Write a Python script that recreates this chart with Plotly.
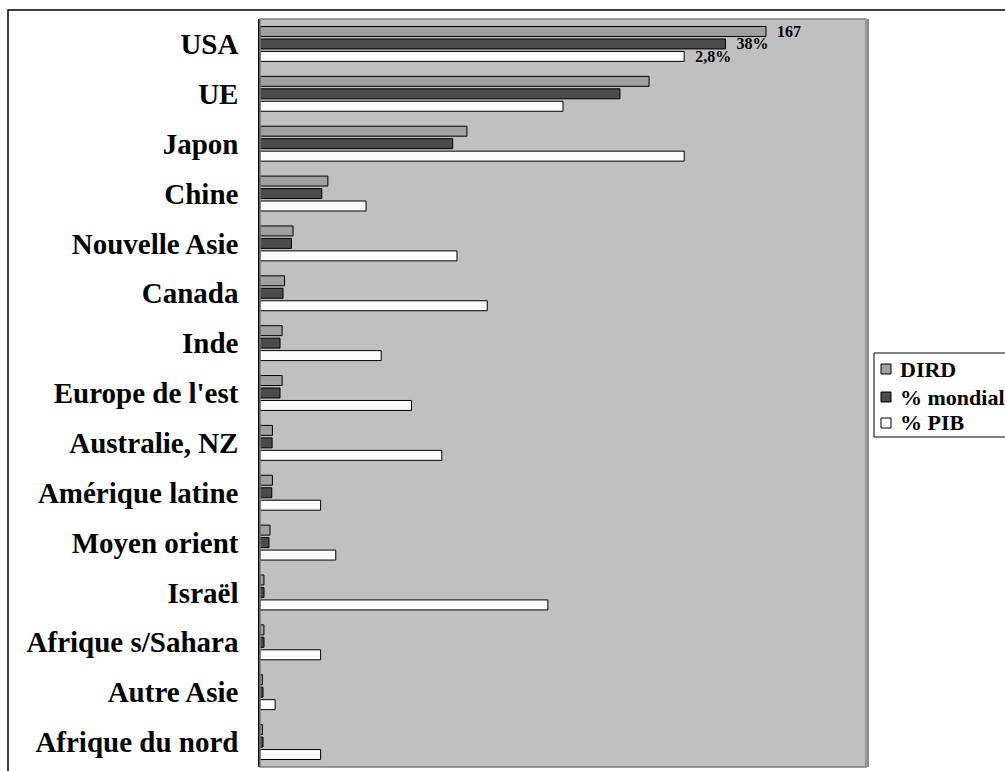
import plotly.graph_objects as go

# Categories (top to bottom)
regions = ["USA", "UE", "Japon", "Chine", "Nouvelle Asie", "Canada", "Inde",
           "Europe de l'est", "Australie, NZ", "Amérique latine", "Moyen orient",
           "Israël", "Afrique s/Sahara", "Autre Asie", "Afrique du nord"]

# DIRD (milliards)
dird = [167, 128.4, 68.3, 22.4, 10.9, 8.1, 7.3, 7.3, 4.1, 4.1, 3.3, 1.3, 1.3, 0.8, 0.8]
# part mondiale (%)
mondial = [38.4, 29.7, 15.9, 5.1, 2.6, 1.9, 1.65, 1.65, 1.0, 0.97, 0.74, 0.33, 0.33, 0.25, 0.25]
# DIRD / PIB (%)
pib = [2.8, 2.0, 2.8, 0.7, 1.3, 1.5, 0.8, 1.0, 1.2, 0.4, 0.5, 1.9, 0.4, 0.1, 0.4]

# scale factors used to draw the three series on a common axis
mondial_scale = 4
pib_scale = 50

# data labels
dird_labels = ["167"] + [""] * 14
mondial_labels = ["38%"] + [""] * 14
pib_labels = ["2,8%"] + [""] * 14

series_names = ["DIRD", "% mondial", "% PIB"]
series_colors = ["#A0A0A0", "#4B4B4B", "#FCFCFC"]

SERIF = "Liberation Serif, Times New Roman, serif"
NB = "\u00a0\u00a0"

fig = go.Figure()
values = [
    dird,
    [v * mondial_scale for v in mondial],
    [v * pib_scale for v in pib],
]
labels = [dird_labels, mondial_labels, pib_labels]
for name, vals, col, lab in zip(series_names, values, series_colors, labels):
    fig.add_trace(go.Bar(
        y=regions, x=vals, name=name, orientation="h",
        marker=dict(color=col, line=dict(color="#000000", width=1)),
        text=["<b>" + NB + t + "</b>" if t else "" for t in lab],
        textposition="outside", constraintext="none", cliponaxis=False,
        textfont=dict(family=SERIF, size=16, color="#000000"),
        hoverinfo="skip", showlegend=False,
    ))

W, H = 1005, 771
L, R, T, B = 260, 866, 19, 767
pw, ph = R - L, B - T

def px(x):
    return (x - L) / pw

def py(y):
    return (B - y) / ph

shapes = [
    # plot area border
    dict(type="rect", xref="paper", yref="paper", x0=0, x1=1, y0=0, y1=1,
         line=dict(color="#808080", width=1.5), layer="above"),
    dict(type="line", xref="paper", yref="paper", x0=px(868), x1=px(868), y0=0, y1=1,
         line=dict(color="#8C8C8C", width=2), layer="above"),
    # outer chart border
    dict(type="rect", xref="paper", yref="paper",
         x0=px(8), x1=px(1100), y0=py(800), y1=py(10),
         line=dict(color="#000000", width=1.5), layer="above"),
    # legend box
    dict(type="rect", xref="paper", yref="paper",
         x0=px(874), x1=px(1100), y0=py(437), y1=py(353),
         line=dict(color="#000000", width=1), fillcolor="#FFFFFF", layer="above"),
]
annotations = []
legend_rows = [369, 397, 423]
for name, col, yc in zip(series_names, series_colors, legend_rows):
    shapes.append(dict(type="rect", xref="paper", yref="paper",
                       x0=px(881), x1=px(891), y0=py(yc + 5), y1=py(yc - 5),
                       line=dict(color="#000000", width=1), fillcolor=col, layer="above"))
    annotations.append(dict(xref="paper", yref="paper", x=px(898), y=py(yc),
                            xanchor="left", yanchor="middle", showarrow=False,
                            text="<b>" + name + "</b>",
                            font=dict(family=SERIF, size=22, color="#000000")))

fig.update_layout(
    width=W, height=H,
    margin=dict(l=L, r=W - R, t=T, b=H - B, autoexpand=False),
    paper_bgcolor="#FFFFFF",
    plot_bgcolor="#C0C0C0",
    barmode="group",
    bargap=0.25,
    bargroupgap=0.2,
    showlegend=False,
    xaxis=dict(visible=False, range=[0, 200], fixedrange=True),
    yaxis=dict(
        autorange="reversed", showgrid=False, zeroline=False,
        showline=True, linecolor="#000000", linewidth=1.5,
        ticks="", ticklabelstandoff=14,
        tickfont=dict(family=SERIF, size=29, color="#000000", weight="bold"),
        fixedrange=True,
    ),
    shapes=shapes,
    annotations=annotations,
)

fig.write_html("out.html")
